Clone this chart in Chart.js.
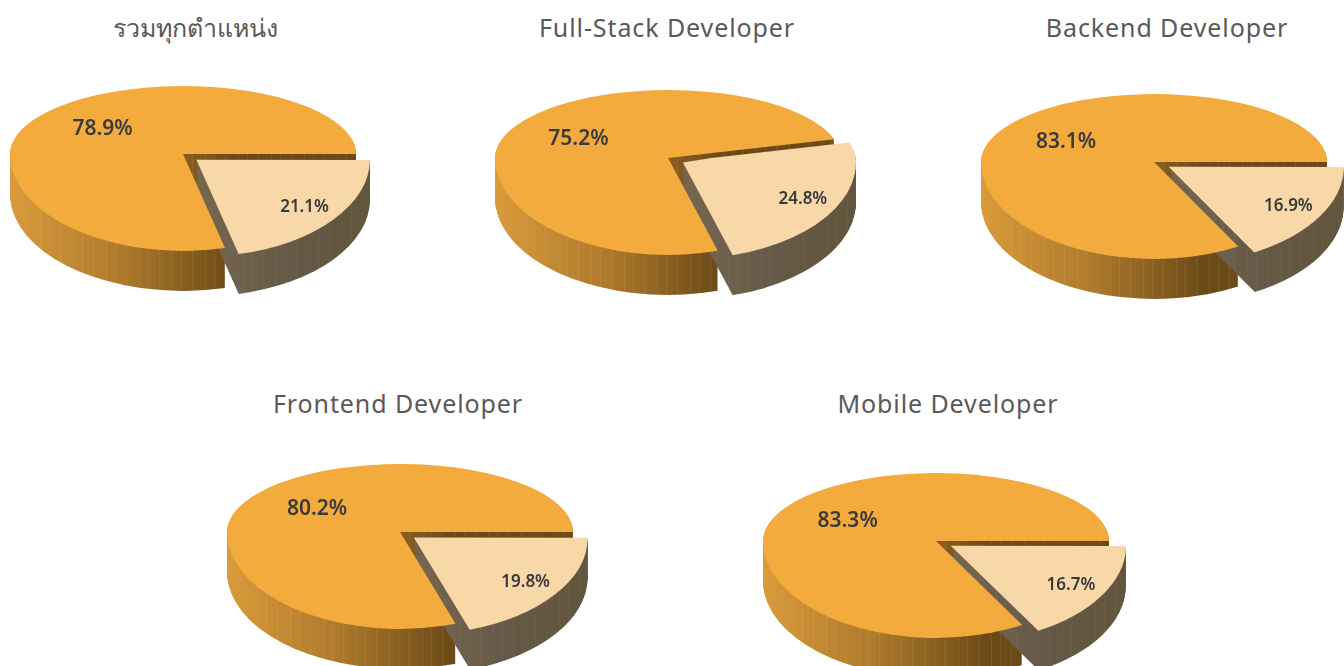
<!DOCTYPE html>
<html>
<head>
<meta charset="utf-8">
<script src="https://cdn.jsdelivr.net/npm/chart.js@4.4.1/dist/chart.umd.min.js"></script>
<style>
  body { margin: 0; width: 1344px; height: 666px; overflow: hidden; background: #fff; position: relative; }
  .title { position: absolute; transform: translateX(-50%); white-space: nowrap;
           font-family: "Noto Sans", "DejaVu Sans", sans-serif; font-size: 25px; line-height: 32px; color: #595959; }
  .title.latin { letter-spacing: 0.9px; }
  .pie { position: absolute; width: 420px; height: 300px; }
</style>
</head>
<body>
<script>
// ข้อมูล: สัดส่วน (%) ของแต่ละตำแหน่ง
const titles = ['รวมทุกตำแหน่ง', 'Full-Stack Developer', 'Backend Developer', 'Frontend Developer', 'Mobile Developer'];
const sliceNames = ['ส่วนที่แยกออก', 'ส่วนหลัก'];
const smallShare = [21.1, 24.8, 16.9, 19.8, 16.7];
const bigShare = [78.9, 75.2, 83.1, 80.2, 83.3];

// where each pie sits on the page (pie centre) and where its title goes
const pieCenters = [[183, 154], [668, 158], [1154, 162], [400, 532], [936, 541]];
const titlePos = [[195, 11], [667, 11], [1167, 11], [398, 387], [948, 387]];
const rotations = [90, 74, 90, 90, 90];

const topColors = ['#F8D8A9', '#F3AB3E'];
const depth = 40;
const radiusX = 173;
// fake perspective: back half of the disc is flatter than the front half
const squashBack = 0.393;
const squashFront = 0.56;
const explode = 68; // chart.js divides this by 4
const labelRadius = [0.79, 0.59];

// same shift that ArcElement.draw uses for offset
function arcShift(arc) {
  const off = (arc.options.offset || 0) / 4;
  const circ = arc.endAngle - arc.startAngle;
  const fix = 1 - Math.sin(Math.min(Math.PI, circ || 0));
  return off + off * fix;
}

function slicePath(ctx, arc) {
  const mid = (arc.startAngle + arc.endAngle) / 2;
  const s = arcShift(arc);
  const x = arc.x + Math.cos(mid) * s;
  const y = arc.y + Math.sin(mid) * s;
  ctx.beginPath();
  ctx.moveTo(x, y);
  ctx.arc(x, y, arc.outerRadius, arc.startAngle, arc.endAngle);
  ctx.closePath();
}

// clip to one half (above or below the centre line) and flatten it
function halfView(ctx, cx, cy, front) {
  ctx.beginPath();
  if (front) ctx.rect(-2000, cy, 4000, 4000);
  else ctx.rect(-2000, cy - 4000, 4000, 4000);
  ctx.clip();
  ctx.translate(cx, cy);
  ctx.scale(1, front ? squashFront : squashBack);
  ctx.translate(-cx, -cy);
}

// side texture: horizontal colour ramp with thin light facet lines
function sidePattern(ctx, width, stops, from, to, stripeAlpha) {
  const c = document.createElement('canvas');
  c.width = width;
  c.height = 2;
  const p = c.getContext('2d');
  const g = p.createLinearGradient(from, 0, to, 0);
  stops.forEach((col, k) => g.addColorStop(k / (stops.length - 1), col));
  p.fillStyle = g;
  p.fillRect(0, 0, width, 2);
  p.fillStyle = 'rgba(255,240,215,' + stripeAlpha + ')';
  for (let x = from + 30, k = 0; x < width; x += 9 + (k % 3) * 2, k++) p.fillRect(x, 0, 1, 2);
  return ctx.createPattern(c, 'repeat');
}

const pie3d = {
  id: 'pie3d',
  beforeDatasetsDraw(chart) {
    const ctx = chart.ctx;
    const arcs = chart.getDatasetMeta(0).data;
    const cx = arcs[0].x, cy = arcs[0].y, r = arcs[0].outerRadius;

    const sides = [
      sidePattern(ctx, chart.width, ['#74654F', '#665A48', '#62563F'], cx + 30, cx + r, 0.05),
      sidePattern(ctx, chart.width, ['#D99B3B', '#AE7A2C', '#6C4A17'], cx - r, cx + 50, 0.09)
    ];

    // big slice first, exploded slice after (it sits in front)
    [1, 0].forEach(i => {
      for (let d = depth; d >= 1; d--) {
        [false, true].forEach(front => {
          ctx.save();
          ctx.translate(0, d);
          halfView(ctx, cx, cy, front);
          slicePath(ctx, arcs[i]);
          ctx.fillStyle = sides[i];
          ctx.fill();
          ctx.restore();
        });
      }
    });

    // the library draws the back half now...
    ctx.save();
    halfView(ctx, cx, cy, false);
  },
  afterDatasetsDraw(chart) {
    const ctx = chart.ctx;
    ctx.restore();
    const meta = chart.getDatasetMeta(0);
    const arcs = meta.data;
    const cx = arcs[0].x, cy = arcs[0].y;

    // ...and the front half here
    ctx.save();
    halfView(ctx, cx, cy, true);
    meta.controller.draw();
    ctx.restore();

    const values = chart.data.datasets[0].data;
    ctx.save();
    ctx.fillStyle = '#3A3A3A';
    ctx.textAlign = 'center';
    ctx.textBaseline = 'middle';
    arcs.forEach((arc, i) => {
      const mid = (arc.startAngle + arc.endAngle) / 2;
      const dist = arcShift(arc) + labelRadius[i] * arc.outerRadius;
      const dy = Math.sin(mid) * dist;
      const x = arc.x + Math.cos(mid) * dist;
      const y = arc.y + dy * (dy > 0 ? squashFront : squashBack);
      ctx.font = (i === 0 ? '600 17px' : '600 21px') + ' "Noto Sans", "DejaVu Sans", sans-serif';
      ctx.fillText(values[i].toFixed(1) + '%', x, y);
    });
    ctx.restore();
  }
};

titles.forEach((t, i) => {
  const title = document.createElement('div');
  title.className = i === 0 ? 'title' : 'title latin';
  title.textContent = t;
  title.style.left = titlePos[i][0] + 'px';
  title.style.top = titlePos[i][1] + 'px';
  document.body.appendChild(title);

  const box = document.createElement('div');
  box.className = 'pie';
  box.style.left = (pieCenters[i][0] - 210) + 'px';
  box.style.top = (pieCenters[i][1] - 150) + 'px';
  const canvas = document.createElement('canvas');
  canvas.width = 420;
  canvas.height = 300;
  box.appendChild(canvas);
  document.body.appendChild(box);

  new Chart(canvas, {
    type: 'pie',
    data: {
      labels: sliceNames,
      datasets: [{
        data: [smallShare[i], bigShare[i]],
        backgroundColor: topColors,
        borderWidth: 0,
        offset: [explode, 0],
        radius: radiusX,
        clip: false
      }]
    },
    options: {
      responsive: false,
      animation: false,
      rotation: rotations[i],
      radius: radiusX,
      events: [],
      layout: { padding: 0 },
      plugins: { legend: { display: false }, tooltip: { enabled: false } }
    },
    plugins: [pie3d]
  });
});
</script>
</body>
</html>
